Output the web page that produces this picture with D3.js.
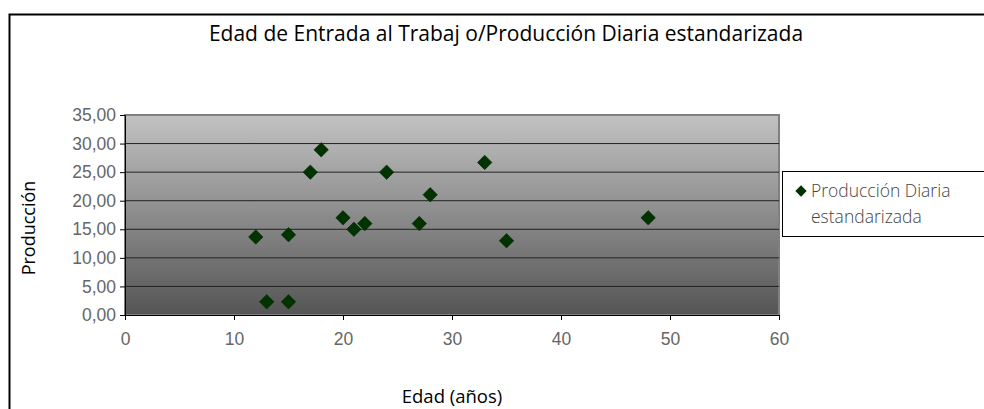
<!DOCTYPE html>
<html><head><meta charset="utf-8">
<script src="https://cdn.jsdelivr.net/npm/d3@7"></script>
<style>body{margin:0;background:#fff;}svg{display:block;font-family:"Open Sans",sans-serif;}</style>
</head><body>
<svg id="c" width="984" height="409"></svg>
<script>
const edad = [12,13,15,15,17,18,20,21,22,24,27,28,33,35,48];
const produccion = [13.65,2.3,14.05,2.3,25.0,28.9,17.0,15.0,16.0,25.0,16.0,21.05,26.7,13.0,17.0];
const xTicks = [0,10,20,30,40,50,60];
const yTicks = [0,5,10,15,20,25,30,35];
const title = "Edad de Entrada al Trabaj o/Producción Diaria estandarizada";
const xTitle = "Edad (años)";
const yTitle = "Producción";
const seriesName = ["Producción Diaria", "estandarizada"];

const svg = d3.select("#c");
const L=125, R=779, T=115, B=315;
const x = d3.scaleLinear().domain([0,60]).range([L,R]);
const y = d3.scaleLinear().domain([0,35]).range([B,T]);

// outer frame
svg.append("rect").attr("x",9.5).attr("y",14.5).attr("width",1000).attr("height",420)
  .attr("fill","#fff").attr("stroke","#000").attr("stroke-width",2);

const defs = svg.append("defs");
const g = defs.append("linearGradient").attr("id","bg").attr("x1",0).attr("y1",0).attr("x2",0).attr("y2",1);
g.append("stop").attr("offset","0%").attr("stop-color","#c2c2c2");
g.append("stop").attr("offset","100%").attr("stop-color","#555555");

svg.append("rect").attr("x",L).attr("y",T).attr("width",R-L).attr("height",B-T)
  .attr("fill","url(#bg)").attr("stroke","#808080").attr("stroke-width",2);

// gridlines
svg.append("g").selectAll("line").data(yTicks.filter(d=>d>0&&d<35)).join("line")
  .attr("x1",L).attr("x2",R).attr("y1",d=>y(d)).attr("y2",d=>y(d))
  .attr("stroke","#222").attr("stroke-width",1);

// axes
const yAxis = d3.axisLeft(y).tickValues(yTicks).tickSize(5).tickPadding(4)
  .tickFormat(d=>d3.format(".2f")(d).replace(".",","));
const ya = svg.append("g").attr("transform",`translate(${L},0)`).call(yAxis);
ya.select(".domain").attr("stroke","#000");
ya.selectAll(".tick line").attr("stroke","#000");
ya.selectAll("text").attr("fill","#666").attr("font-size",17.5).attr("font-weight",300);

const xAxis = d3.axisBottom(x).tickValues(xTicks).tickSize(5).tickPadding(13);
const xa = svg.append("g").attr("transform",`translate(0,${B})`).call(xAxis);
xa.select(".domain").attr("stroke","#000");
xa.selectAll(".tick line").attr("stroke","#000");
xa.selectAll("text").attr("fill","#666").attr("font-size",17.5).attr("font-weight",300);

// points (square diamonds)
const diamond = d3.symbol().type(d3.symbolSquare).size(105);
svg.append("g").selectAll("path").data(edad.map((e,i)=>[e,produccion[i]])).join("path")
  .attr("d",diamond).attr("transform",d=>`translate(${x(d[0])},${y(d[1])}) rotate(45)`)
  .attr("fill","#003300").attr("stroke","#002200").attr("stroke-width",0.5);

// title
svg.append("text").attr("x",506).attr("y",41).attr("text-anchor","middle")
  .attr("font-size",21).attr("fill","#000").text(title);
svg.append("text").attr("x",452).attr("y",403).attr("text-anchor","middle")
  .attr("font-size",18.5).attr("fill","#000").text(xTitle);
svg.append("text").attr("transform","translate(35,228) rotate(-90)").attr("text-anchor","middle")
  .attr("font-size",18).attr("fill","#000").text(yTitle);

// legend
svg.append("rect").attr("x",782.5).attr("y",171.5).attr("width",220).attr("height",65)
  .attr("fill","#fff").attr("stroke","#000").attr("stroke-width",1);
svg.append("path").attr("d",d3.symbol().type(d3.symbolSquare).size(64)())
  .attr("transform","translate(801,191) rotate(45)").attr("fill","#003300");
const lt = svg.append("text").attr("font-size",17.5).attr("fill","#444").attr("font-weight",300);
lt.append("tspan").attr("x",811).attr("y",197).text(seriesName[0]);
lt.append("tspan").attr("x",811).attr("y",223).text(seriesName[1]);
</script>
</body></html>
